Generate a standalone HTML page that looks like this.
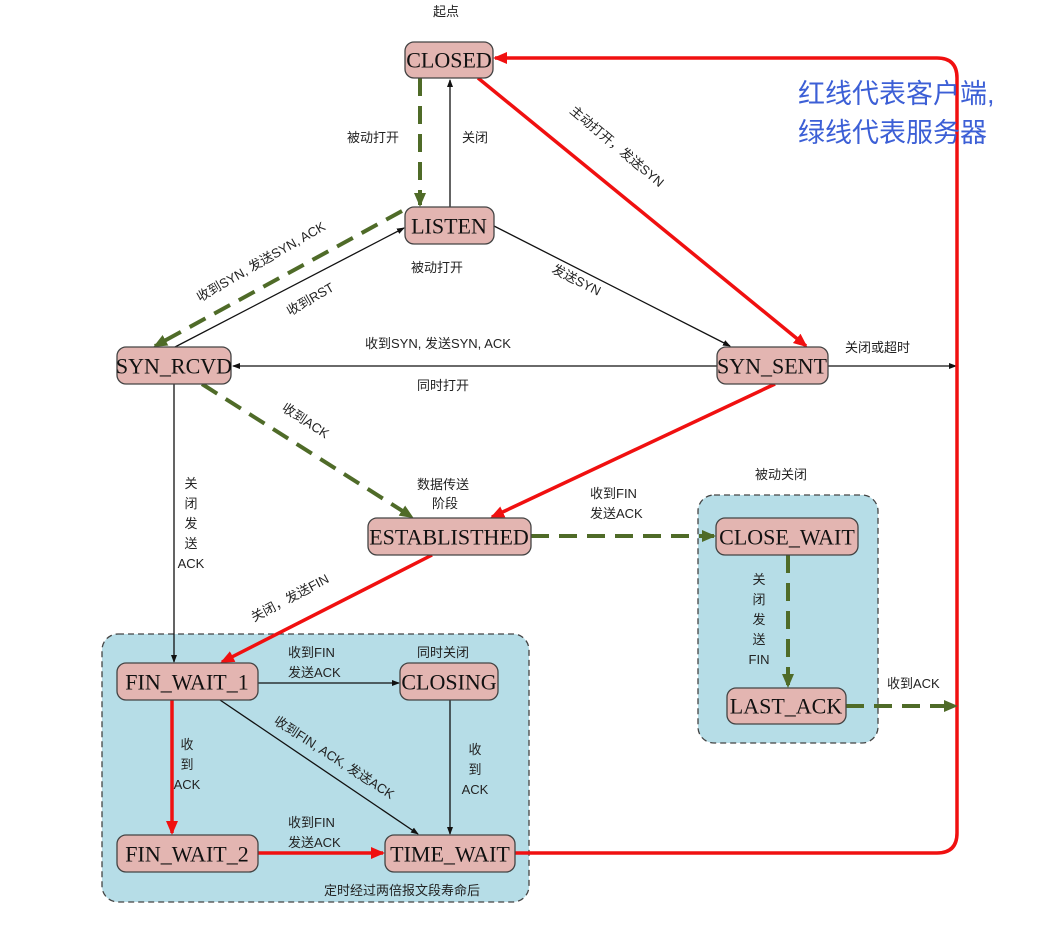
<!DOCTYPE html>
<html><head><meta charset="utf-8"><style>
html,body{margin:0;padding:0;background:#fff;}
svg{display:block}
.n rect{fill:#e3b5b1;stroke:#444;stroke-width:1.3}
.n text{font-family:"Liberation Serif","Noto Serif CJK SC",serif;font-size:22px;fill:#111;text-anchor:middle;dominant-baseline:central}
.l{font-family:"Liberation Sans","Noto Sans CJK SC",sans-serif;font-size:13px;fill:#222}
</style></head><body>
<svg width="1046" height="927" viewBox="0 0 1046 927" xmlns="http://www.w3.org/2000/svg">
<defs>
<marker id="ab" markerWidth="8" markerHeight="8" refX="7" refY="4" orient="auto" markerUnits="userSpaceOnUse"><path d="M0,1 L8,4 L0,7z" fill="#111"/></marker>
<marker id="ar" markerWidth="14" markerHeight="14" refX="12" refY="7" orient="auto" markerUnits="userSpaceOnUse"><path d="M0,1 L14,7 L0,13z" fill="#f01010"/></marker>
<marker id="ag" markerWidth="14" markerHeight="14" refX="12" refY="7" orient="auto" markerUnits="userSpaceOnUse"><path d="M0,1 L14,7 L0,13z" fill="#4f6b28"/></marker>
</defs>
<!-- group boxes -->
<rect x="102" y="634" width="427" height="268" rx="16" fill="#b6dde7" stroke="#444" stroke-width="1.3" stroke-dasharray="6,4"/>
<rect x="698" y="495" width="180" height="248" rx="16" fill="#b6dde7" stroke="#444" stroke-width="1.3" stroke-dasharray="6,4"/>

<!-- black lines -->
<g stroke="#111" stroke-width="1.3" fill="none" marker-end="url(#ab)">
<line x1="450" y1="207" x2="450" y2="80"/>
<line x1="175" y1="347" x2="404" y2="228"/>
<line x1="494" y1="226" x2="730" y2="346"/>
<line x1="717" y1="366" x2="233" y2="366"/>
<line x1="828" y1="366" x2="956" y2="366"/>
<line x1="174" y1="384" x2="174" y2="662"/>
<line x1="258" y1="683" x2="399" y2="683"/>
<line x1="220" y1="700" x2="418" y2="834"/>
<line x1="450" y1="700" x2="450" y2="834"/>
</g>
<!-- red lines -->
<g stroke="#f01010" stroke-width="3.5" fill="none" marker-end="url(#ar)">
<line x1="478" y1="78" x2="806" y2="346"/>
<line x1="775" y1="384" x2="492" y2="517"/>
<line x1="432" y1="555" x2="222" y2="662"/>
<line x1="172" y1="700" x2="172" y2="833"/>
<line x1="258" y1="853" x2="383" y2="853"/>
<path d="M515,853 L937,853 Q957,853 957,833 L957,78 Q957,58 937,58 L495,58"/>
</g>
<!-- green dashed -->
<g stroke="#4f6b28" stroke-width="4" fill="none" stroke-dasharray="18,10" marker-end="url(#ag)">
<line x1="420" y1="78" x2="420" y2="205"/>
<line x1="402" y1="211" x2="155" y2="346"/>
<line x1="202" y1="384" x2="412" y2="517"/>
<line x1="531" y1="536" x2="714" y2="536"/>
<line x1="788" y1="555" x2="788" y2="686"/>
<line x1="846" y1="706" x2="956" y2="706"/>
</g>

<!-- nodes -->
<g class="n">
<rect x="405" y="42" width="88" height="36" rx="9"/><text x="449" y="60">CLOSED</text>
<rect x="405" y="207" width="89" height="37" rx="9"/><text x="449" y="226">LISTEN</text>
<rect x="117" y="347" width="114" height="37" rx="9"/><text x="174" y="366">SYN_RCVD</text>
<rect x="717" y="347" width="111" height="37" rx="9"/><text x="772" y="366">SYN_SENT</text>
<rect x="368" y="518" width="163" height="37" rx="9"/><text x="449" y="537">ESTABLISTHED</text>
<rect x="716" y="518" width="142" height="37" rx="9"/><text x="787" y="537">CLOSE_WAIT</text>
<rect x="727" y="688" width="119" height="36" rx="9"/><text x="786" y="706">LAST_ACK</text>
<rect x="117" y="663" width="141" height="37" rx="9"/><text x="187" y="682">FIN_WAIT_1</text>
<rect x="400" y="663" width="98" height="37" rx="9"/><text x="449" y="682">CLOSING</text>
<rect x="117" y="835" width="141" height="37" rx="9"/><text x="187" y="854">FIN_WAIT_2</text>
<rect x="385" y="835" width="130" height="37" rx="9"/><text x="450" y="854">TIME_WAIT</text>
</g>

<!-- labels -->
<g class="l">
<text x="433" y="16">起点</text>
<text x="347" y="142">被动打开</text>
<text x="462" y="142">关闭</text>
<text x="411" y="272">被动打开</text>
<text x="365" y="348">收到SYN, 发送SYN, ACK</text>
<text x="417" y="390">同时打开</text>
<text x="845" y="352">关闭或超时</text>
<text x="417" y="489">数据传送</text>
<text x="432" y="508">阶段</text>
<text x="590" y="498">收到FIN</text>
<text x="590" y="518">发送ACK</text>
<text x="755" y="479">被动关闭</text>
<text x="887" y="688">收到ACK</text>
<text x="288" y="657">收到FIN</text>
<text x="288" y="677">发送ACK</text>
<text x="417" y="657">同时关闭</text>
<text x="288" y="827">收到FIN</text>
<text x="288" y="847">发送ACK</text>
<text x="324" y="895">定时经过两倍报文段寿命后</text>
<g text-anchor="middle">
<text x="191" y="488">关</text><text x="191" y="508">闭</text><text x="191" y="528">发</text><text x="191" y="548">送</text><text x="191" y="568">ACK</text>
<text x="187" y="749">收</text><text x="187" y="769">到</text><text x="187" y="789">ACK</text>
<text x="475" y="754">收</text><text x="475" y="774">到</text><text x="475" y="794">ACK</text>
<text x="759" y="584">关</text><text x="759" y="604">闭</text><text x="759" y="624">发</text><text x="759" y="644">送</text><text x="759" y="664">FIN</text>
</g>
<text transform="translate(200,302) rotate(-30)">收到SYN, 发送SYN, ACK</text>
<text transform="translate(290,316) rotate(-30)">收到RST</text>
<text transform="translate(569,112) rotate(40)">主动打开，发送SYN</text>
<text transform="translate(551,272) rotate(27)">发送SYN</text>
<text transform="translate(281,410) rotate(33)">收到ACK</text>
<text transform="translate(254,622) rotate(-28)">关闭，发送FIN</text>
<text transform="translate(273,723) rotate(33)">收到FIN, ACK, 发送ACK</text>
</g>
<g font-family="'Liberation Sans','Noto Sans CJK SC',sans-serif" font-size="27" fill="#3c5fd6">
<text x="798" y="103">红线代表客户端,</text>
<text x="798" y="142">绿线代表服务器</text>
</g>
</svg>
</body></html>
